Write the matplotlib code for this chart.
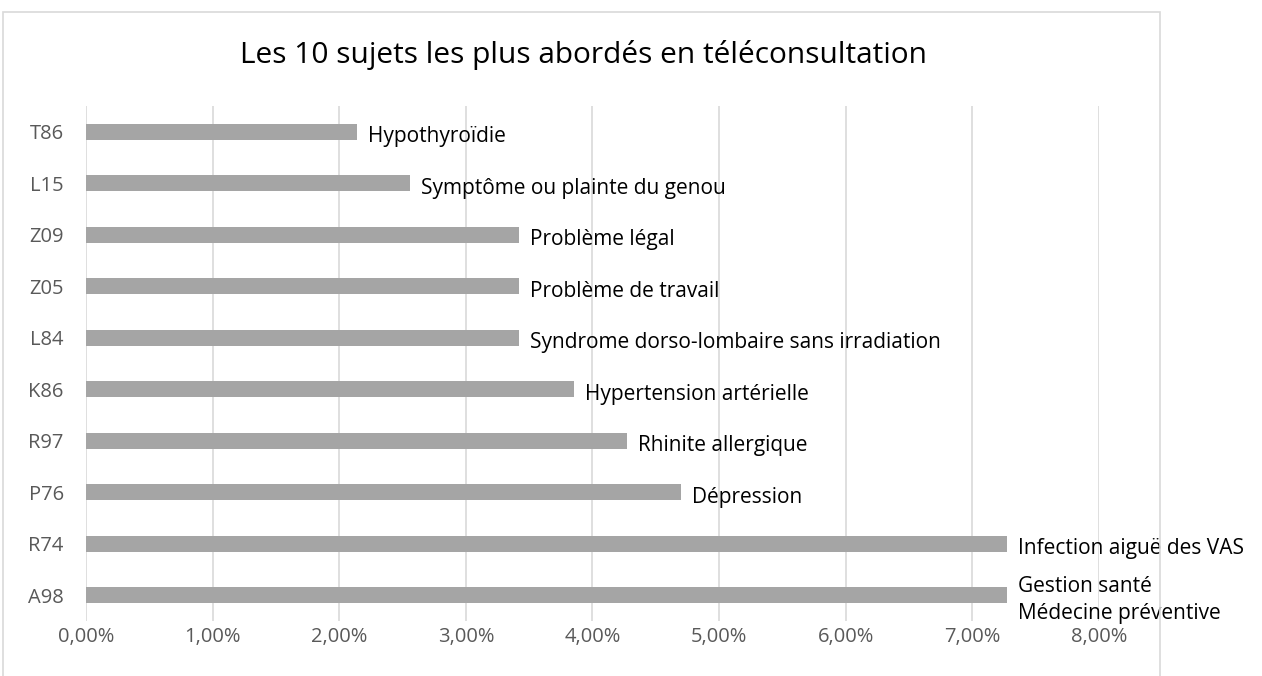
import matplotlib
matplotlib.use("Agg")
import matplotlib.pyplot as plt
from matplotlib.patches import Rectangle
from matplotlib.ticker import FuncFormatter, MultipleLocator

codes = ["A98", "R74", "P76", "R97", "K86", "L84", "Z05", "Z09", "L15", "T86"]
values = [0.0727, 0.0727, 0.0470, 0.0427, 0.0385, 0.0342, 0.0342, 0.0342, 0.0256, 0.0214]
labels = ["Gestion santé\nMédecine préventive", "Infection aiguë des VAS", "Dépression",
          "Rhinite allergique", "Hypertension artérielle",
          "Syndrome dorso-lombaire sans irradiation", "Problème de travail",
          "Problème légal", "Symptôme ou plainte du genou", "Hypothyroïdie"]
title = "Les 10 sujets les plus abordés en téléconsultation"

FONT = "Open Sans"
W, H = 1262, 676
fig = plt.figure(figsize=(W / 100, H / 100), dpi=100)

# chart border (open at the bottom, as in the cropped original)
fig.patches.append(Rectangle((3 / W, -0.05), (1160 - 3) / W, (H - 12) / H + 0.05,
                             transform=fig.transFigure, fill=False,
                             edgecolor="#d9d9d9", linewidth=1.2))

left, right, top, bottom = 86, 1099, 106, 621
ax = fig.add_axes([left / W, 1 - bottom / H, (right - left) / W, (bottom - top) / H])

y = list(range(len(codes)))
ax.barh(y, values, height=0.31, color="#a5a5a5", zorder=3)
ax.set_ylim(-0.5, len(codes) - 0.5)
ax.set_xlim(0, 0.08)
ax.xaxis.set_major_locator(MultipleLocator(0.01))
ax.xaxis.set_major_formatter(FuncFormatter(lambda v, p: f"{v*100:.2f}%".replace(".", ",")))
ax.set_yticks(y)
ax.set_yticklabels(codes)
ax.grid(axis="x", color="#d9d9d9", linewidth=1.2, zorder=0)
for s in ax.spines.values():
    s.set_visible(False)
ax.tick_params(axis="both", length=0, colors="#595959", labelsize=14.5)
ax.tick_params(axis="y", pad=16)
ax.tick_params(axis="x", pad=4)
for t in ax.get_xticklabels() + ax.get_yticklabels():
    t.set_fontfamily(FONT)

for yi, v, lab in zip(y, values, labels):
    ax.annotate(lab, (v, yi), xytext=(8, -3.5), textcoords="offset points",
                ha="left", va="center", fontsize=15, color="black",
                family=FONT, linespacing=1.38, annotation_clip=False)

fig.text(583 / W, 1 - 55 / H, title, ha="center", va="center", fontsize=21.5,
         family=FONT, color="black")

fig.savefig("out.png", dpi=100, facecolor="white")
